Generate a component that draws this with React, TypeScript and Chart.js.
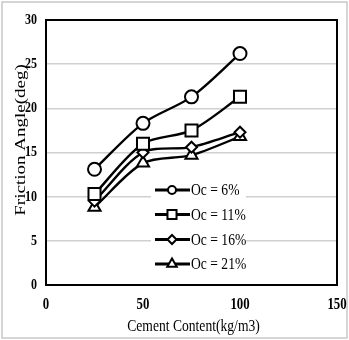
import React, { useEffect, useRef } from 'react';
import { Chart, registerables } from 'chart.js';
import { drawPoint } from 'chart.js/helpers';

Chart.register(...registerables);

const cementContent = [25, 50, 75, 100];
const oc6 = [13.1, 18.3, 21.3, 26.2];
const oc11 = [10.3, 16.0, 17.5, 21.3];
const oc16 = [9.5, 15.0, 15.6, 17.3];
const oc21 = [8.8, 13.8, 14.7, 16.8];
const seriesLabels = ['Oc = 6%', 'Oc = 11%', 'Oc = 16%', 'Oc = 21%'];
const seriesValues = [oc6, oc11, oc16, oc21];
const markerStyles = ['circle', 'rect', 'rectRot', 'triangle'];
const markerRadii = [6.5, 8.5, 5.5, 7];
const legendRadii = [4, 6.4, 4.5, 5.5];
const xTitle = 'Cement Content(kg/m3)';
const yTitle = 'Friction Angle(deg)';

const SERIF = '"Liberation Serif", "Times New Roman", serif';
const SX = 0.8; // horizontal squeeze of the lettering in the reference

function squeezedText(ctx: any, text: string, x: number, y: number, font: string, align: string, rotate = 0) {
  ctx.save();
  ctx.translate(x, y);
  ctx.scale(SX, 1);
  if (rotate) ctx.rotate(rotate);
  ctx.font = font;
  ctx.fillStyle = '#000';
  ctx.textAlign = align;
  ctx.textBaseline = 'middle';
  ctx.fillText(text, 0, 0);
  ctx.restore();
}

const framePlugin = {
  id: 'frame',
  afterDraw(chart: any) {
    const { ctx, chartArea } = chart;
    ctx.save();
    // outer light border of the picture
    ctx.strokeStyle = '#c8c8c8';
    ctx.lineWidth = 1.5;
    ctx.strokeRect(2, 2, chart.width - 4, chart.height - 4);
    // plot box
    ctx.strokeStyle = '#000';
    ctx.lineWidth = 2;
    ctx.strokeRect(chartArea.left, chartArea.top, chartArea.right - chartArea.left, chartArea.bottom - chartArea.top);

    // tick labels, placed by the scales
    const xs = chart.scales.x;
    const ys = chart.scales.y;
    xs.ticks.forEach((t: any) => {
      squeezedText(ctx, String(t.value), xs.getPixelForValue(t.value), 305, `bold 16px ${SERIF}`, 'center');
    });
    ys.ticks.forEach((t: any) => {
      squeezedText(ctx, String(t.value), 37, ys.getPixelForValue(t.value), `bold 15px ${SERIF}`, 'right');
    });
    // axis titles
    squeezedText(ctx, xTitle, (chartArea.left + chartArea.right) / 2 + 2, 327, `17px ${SERIF}`, 'center');
    squeezedText(ctx, yTitle, 21, 140, `19px ${SERIF}`, 'center', -Math.PI / 2);

    // legend
    const lx = 151, ly = 178, lw = 95, lh = 98;
    ctx.fillStyle = '#fff';
    ctx.fillRect(lx, ly, lw, lh);
    const rowY = [190, 214.5, 239.5, 264];
    chart.data.datasets.forEach((ds: any, i: number) => {
      const y = rowY[i];
      ctx.strokeStyle = '#000';
      ctx.lineWidth = 3;
      ctx.beginPath();
      ctx.moveTo(155, y);
      ctx.lineTo(190, y);
      ctx.stroke();
      ctx.fillStyle = '#fff';
      ctx.lineWidth = 2;
      drawPoint(ctx, { pointStyle: ds.pointStyle, radius: legendRadii[i], borderWidth: 2, rotation: 0 } as any, 172, y);
      squeezedText(ctx, ds.label, 191, y + 1, `17px ${SERIF}`, 'left');
    });
    ctx.restore();
  },
};

export default function App() {
  const ref = useRef<HTMLCanvasElement>(null);
  useEffect(() => {
    const canvas = ref.current!;
    const chart = new Chart(canvas, {
      type: 'scatter',
      data: {
        datasets: seriesValues.map((vals, i) => ({
          label: seriesLabels[i],
          data: cementContent.map((x, j) => ({ x, y: vals[j] })),
          showLine: true,
          borderColor: '#000',
          borderWidth: 2.4,
          tension: 0.3,
          pointStyle: markerStyles[i] as any,
          pointRadius: markerRadii[i],
          pointBackgroundColor: '#fff',
          pointBorderColor: '#000',
          pointBorderWidth: 2,
        })),
      },
      options: {
        animation: false,
        responsive: false,
        maintainAspectRatio: false,
        layout: { padding: { top: 20, right: 12, left: 0, bottom: 0 } },
        plugins: { legend: { display: false }, tooltip: { enabled: false } },
        scales: {
          x: {
            type: 'linear',
            min: 0,
            max: 150,
            afterFit: (s: any) => { s.height = 55; },
            grid: { display: false, drawTicks: false },
            border: { display: true, color: '#000', width: 2 },
            ticks: { stepSize: 50, display: false },
            title: { display: false },
          },
          y: {
            type: 'linear',
            min: 0,
            max: 30,
            afterFit: (s: any) => { s.width = 46; },
            grid: { color: '#d0d0d0', lineWidth: 1.5, drawTicks: false },
            border: { display: true, color: '#000', width: 2 },
            ticks: { stepSize: 5, display: false },
            title: { display: false },
          },
        },
      },
      plugins: [framePlugin],
    });
    return () => chart.destroy();
  }, []);
  return (
    <div style={{ position: 'absolute', left: 0, top: 0, width: 349, height: 340, background: '#fff' }}>
      <canvas ref={ref} width={349} height={340} style={{ width: 349, height: 340, display: 'block' }} />
    </div>
  );
}
